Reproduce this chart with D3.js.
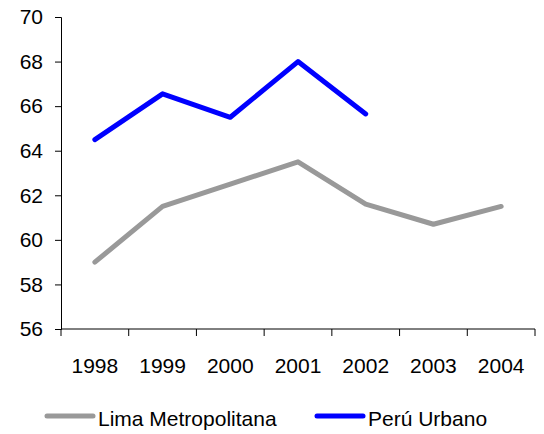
<!DOCTYPE html>
<html lang="es">
<head>
<meta charset="utf-8">
<title>Lima Metropolitana / Perú Urbano</title>
<script src="https://d3js.org/d3.v7.min.js"></script>
<style>
  body { margin: 0; background: #fff; }
  text { font-family: "Liberation Sans", Arial, sans-serif; fill: #000; }
</style>
</head>
<body>
<div id="chart"></div>
<script>
const years = ["1998", "1999", "2000", "2001", "2002", "2003", "2004"];
const limaValues = [59.0, 61.5, 62.5, 63.5, 61.6, 60.7, 61.5];
const peruValues = [64.5, 66.55, 65.5, 68.0, 65.65];
const yTicks = [56, 58, 60, 62, 64, 66, 68, 70];

const width = 544, height = 434;
const plotLeft = 61, plotRight = 535, plotTop = 17, plotBottom = 329;

const svg = d3.select('#chart')
  .append('svg')
  .attr('width', width)
  .attr('height', height);

const xScale = d3.scaleBand()
  .domain(years)
  .range([plotLeft, plotRight]);

const yScale = d3.scaleLinear()
  .domain([56, 70])
  .range([plotBottom, plotTop]);

// y axis
const yAxis = d3.axisLeft(yScale).tickValues(yTicks).tickSize(6).tickPadding(12);
const gy = svg.append('g')
  .attr('transform', `translate(${plotLeft},0)`)
  .call(yAxis);
gy.selectAll('text').style('font-size', '21px');

// x axis
const xAxis = d3.axisBottom(xScale).tickSize(0).tickPadding(29);
const gx = svg.append('g')
  .attr('transform', `translate(0,${plotBottom})`)
  .call(xAxis);
gx.selectAll('text').style('font-size', '21px');
gx.select('.domain').attr('d', `M${plotLeft},0H${plotRight}`);
// tick marks between categories
gx.selectAll('.sep')
  .data(d3.range(years.length + 1))
  .enter()
  .append('line')
  .attr('x1', i => plotLeft + i * xScale.step())
  .attr('x2', i => plotLeft + i * xScale.step())
  .attr('y1', 0)
  .attr('y2', 7)
  .attr('stroke', '#000');

const line = d3.line()
  .x((d, i) => xScale(years[i]) + xScale.bandwidth() / 2)
  .y(d => yScale(d));

svg.append('path')
  .datum(limaValues)
  .attr('d', line)
  .attr('fill', 'none')
  .attr('stroke', '#999999')
  .attr('stroke-width', 5)
  .attr('stroke-linecap', 'round')
  .attr('stroke-linejoin', 'round');

svg.append('path')
  .datum(peruValues)
  .attr('d', line)
  .attr('fill', 'none')
  .attr('stroke', '#0000ff')
  .attr('stroke-width', 5)
  .attr('stroke-linecap', 'round')
  .attr('stroke-linejoin', 'round');

// legend
const legend = [
  { name: 'Lima Metropolitana', color: '#999999', x: 47 },
  { name: 'Perú Urbano', color: '#0000ff', x: 317 }
];
const lg = svg.selectAll('.legend')
  .data(legend)
  .enter()
  .append('g')
  .attr('transform', d => `translate(${d.x},416)`);
lg.append('line')
  .attr('x1', 0).attr('x2', 46)
  .attr('y1', 0).attr('y2', 0)
  .attr('stroke', d => d.color)
  .attr('stroke-width', 5)
  .attr('stroke-linecap', 'round');
lg.append('text')
  .attr('x', 51)
  .attr('y', 10)
  .style('font-size', '21px')
  .text(d => d.name);
</script>
</body>
</html>
